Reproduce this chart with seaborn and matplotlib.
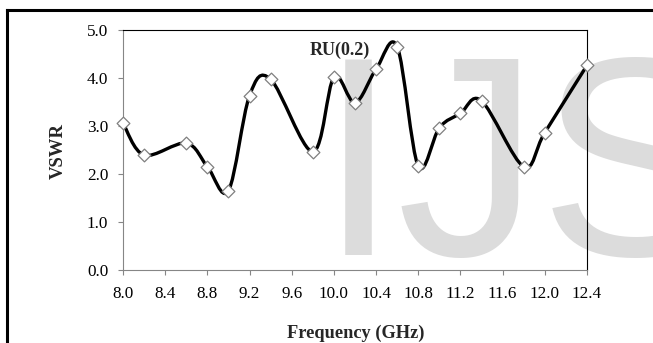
import numpy as np
import pandas as pd
import matplotlib
matplotlib.use("Agg")
import matplotlib.pyplot as plt
from matplotlib.path import Path
from matplotlib.patches import PathPatch
from matplotlib.lines import Line2D
import seaborn as sns

# Data
freq = [8.0, 8.2, 8.6, 8.8, 9.0, 9.2, 9.4, 9.8, 10.0, 10.2, 10.4, 10.6,
        10.8, 11.0, 11.2, 11.4, 11.8, 12.0, 12.4]
vswr = [3.07, 2.40, 2.65, 2.16, 1.66, 3.64, 3.98, 2.47, 4.02, 3.49, 4.19, 4.66,
        2.17, 2.97, 3.27, 3.53, 2.16, 2.87, 4.27]
xticks = [8.0, 8.4, 8.8, 9.2, 9.6, 10.0, 10.4, 10.8, 11.2, 11.6, 12.0, 12.4]
yticks = [0.0, 1.0, 2.0, 3.0, 4.0, 5.0]
series_label = "RU(0.2)"
watermark = "IJS"

df = pd.DataFrame({"Frequency (GHz)": freq, "VSWR": vswr})

sns.set_theme(style="white")
plt.rcParams["font.family"] = ["Liberation Serif", "DejaVu Serif"]

fig = plt.figure(figsize=(6.53, 3.43), dpi=100)
fig.patch.set_facecolor("white")

# Watermark behind the axes
fig.text(319 / 653, 1 - 255 / 343, watermark, fontsize=205, color="#dcdcdc",
         family=["Liberation Sans", "DejaVu Sans"], ha="left", va="baseline", zorder=0)

ax = fig.add_axes([123 / 653, 1 - 270.3 / 343, (587 - 123) / 653, (270.3 - 30.3) / 343])
ax.set_zorder(1)
ax.patch.set_alpha(0)

# Smoothed (Excel-like Bezier) line through the data points
pts = np.column_stack([df["Frequency (GHz)"].to_numpy(), df["VSWR"].to_numpy()])
n = len(pts)
verts = [tuple(pts[0])]
codes = [Path.MOVETO]
for i in range(n - 1):
    p0 = pts[i - 1] if i > 0 else pts[i]
    p1 = pts[i]
    p2 = pts[i + 1]
    p3 = pts[i + 2] if i + 2 < n else pts[i + 1]
    c1 = p1 + (p2 - p0) / 6.0
    c2 = p2 - (p3 - p1) / 6.0
    verts += [tuple(c1), tuple(c2), tuple(p2)]
    codes += [Path.CURVE4] * 3
ax.add_patch(PathPatch(Path(verts, codes), facecolor="none", edgecolor="black",
                       lw=2.4, zorder=2, capstyle="round", joinstyle="round"))

sns.scatterplot(data=df, x="Frequency (GHz)", y="VSWR", marker="D", s=42,
                facecolor="white", edgecolor="#7f7f7f", linewidth=0.9,
                zorder=3, ax=ax, clip_on=False)

ax.set_xlim(8.0, 12.4)
ax.set_ylim(0, 5)
ax.set_xticks(xticks)
ax.set_xticklabels([f"{t:.1f}" for t in xticks])
ax.set_yticks(yticks)
ax.set_yticklabels([f"{t:.1f}" for t in yticks])
ax.tick_params(axis="both", which="major", direction="out", length=3.6,
               width=0.8, color="#868686", labelsize=12.3, labelcolor="black",
               bottom=True, left=True)
ax.tick_params(axis="y", pad=7)
ax.tick_params(axis="x", pad=8)

for side in ["left", "bottom"]:
    ax.spines[side].set_color("#868686")
    ax.spines[side].set_linewidth(0.8)
for side in ["top", "right"]:
    ax.spines[side].set_color("black")
    ax.spines[side].set_linewidth(0.8)
for s in ax.spines.values():
    s.set_visible(True)
ax.grid(False)

ax.set_xlabel("")
ax.set_ylabel("")
fig.text(356 / 653, 1 - 333 / 343, "Frequency (GHz)", fontsize=13.2, fontweight="bold",
         ha="center", va="center")
fig.text(58 / 653, 1 - 151 / 343, "VSWR", fontsize=13.5, fontweight="bold",
         ha="center", va="center", rotation=90)
fig.text(340 / 653, 1 - 50 / 343, series_label, fontsize=13, fontweight="bold",
         ha="center", va="center")

# Outer frame (left and top edges visible)
fig.add_artist(Line2D([7 / 653, 7 / 653], [0, 1 - 9.5 / 343], transform=fig.transFigure,
                      color="black", lw=2.2, solid_capstyle="projecting"))
fig.add_artist(Line2D([7 / 653, 1], [1 - 9.5 / 343, 1 - 9.5 / 343], transform=fig.transFigure,
                      color="black", lw=2.2, solid_capstyle="projecting"))

fig.savefig("out.png", dpi=100, facecolor="white")
